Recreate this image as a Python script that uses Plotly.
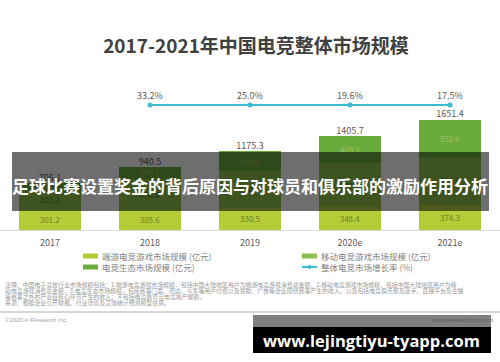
import plotly.graph_objects as go

# ---------------- data ----------------
years = ["2017", "2018", "2019", "2020e", "2021e"]
client_game = [301.2, 305.6, 330.5, 348.4, 374.3]      # 端游电竞游戏市场规模
mobile_game = [303.2, 456.8, 554.8, 648.2, 724.5]      # 移动电竞游戏市场规模
ecosystem = [101.7, 178.1, 290.0, 409.1, 552.6]        # 电竞生态市场规模
totals = [706.1, 940.5, 1175.3, 1405.7, 1651.4]
growth_years = ["2018", "2019", "2020e", "2021e"]
growth_rate = [33.2, 25.0, 19.6, 17.5]

series_names = [
    "端游电竞游戏市场规模 (亿元)",
    "移动电竞游戏市场规模 (亿元)",
    "电竞生态市场规模 (亿元)",
    "整体电竞市场增长率 (%)",
]
title_text = "2017-2021年中国电竞整体市场规模"
banner_text = "足球比赛设置奖金的背后原因与对球员和俱乐部的激励作用分析"
watermark_text = "www.lejingtiyu-tyapp.com"
note_lines = [
    "注释：中国电子竞技行业市场规模包括：1.端游电竞游戏市场规模，包括中国大陆地区用户为端游电竞游戏消费总金额，2.移动电竞游戏市场规模，包括中国大陆地区用户为移",
    "动电竞游戏消费总金额，3.电竞生态市场规模，包括赛事门票、周边、众筹等用户付费以及赞助、广告等企业围绕赛事产生的收入，以及包括电竞俱乐部及选手、直播平台及主播",
    "等赛事之外的产业链核心环节产生的收入；不包括电竞教育与电竞地产规模。",
    "来源：根据企业公开财报、行业访谈及艾瑞统计预测模型估算。",
]
copyright_text = "©2020.4 iResearch Inc."
site_text = "www.iresearch.com.cn"

# ---------------- styles ----------------
C_CLIENT = "#b4cd36"
C_MOBILE = "#8dc04a"
C_ECO = "#6aac3c"
C_LINE = "#3dbccf"
CJK = "Noto Sans CJK SC"

W, H = 500, 362
TOP, BASE = 80, 230          # pixel rows of plot top / baseline
PH = BASE - TOP


def px(x):
    return x / W


def py(y):
    return (BASE - y) / PH


fig = go.Figure()

seg_text_colors = ["#6d7d2a", "#5b7a2a", "#a9b86e"]
for vals, col, name, tc in zip([client_game, mobile_game, ecosystem],
                               [C_CLIENT, C_MOBILE, C_ECO],
                               series_names[:3], seg_text_colors):
    fig.add_trace(go.Bar(
        x=years, y=vals, name=name, marker=dict(color=col, line=dict(width=0)),
        text=[f"{v:.1f}" for v in vals], textposition="inside",
        insidetextanchor="middle", textangle=0, constraintext="none",
        textfont=dict(size=8, color=tc, family=CJK),
        showlegend=False,
    ))

# totals above the stacks
fig.add_trace(go.Scatter(
    x=years, y=totals, mode="text", text=[f"{v:.1f}" for v in totals],
    textposition="top center", textfont=dict(size=9, color="#595959", family=CJK),
    showlegend=False, hoverinfo="skip",
))

# growth line on its own (wide-range) axis so it sits flat near the top
fig.add_trace(go.Scatter(
    x=growth_years, y=growth_rate, yaxis="y2", name=series_names[3],
    mode="lines+markers+text", text=[f"{g:.1f}%" for g in growth_rate],
    textposition="top center", textfont=dict(size=9, color="#595959", family=CJK),
    line=dict(color=C_LINE, width=2), marker=dict(color=C_LINE, size=5),
    showlegend=False,
))

span = 20000.0
frac = (BASE - 105) / PH
lo = 25.0 - frac * span

shapes = []
annotations = []

# ---- manual legend ----
legend_items = [
    (83, 256, "bar", C_CLIENT, series_names[0]),
    (302, 256, "bar", C_MOBILE, series_names[1]),
    (83, 267, "bar", C_ECO, series_names[2]),
    (302, 267, "line", C_LINE, series_names[3]),
]
for x0, yc, kind, col, name in legend_items:
    if kind == "bar":
        shapes.append(dict(type="rect", xref="paper", yref="paper",
                           x0=px(x0), x1=px(x0 + 15), y0=py(yc + 2.5), y1=py(yc - 2.5),
                           fillcolor=col, line=dict(width=0)))
    else:
        shapes.append(dict(type="line", xref="paper", yref="paper",
                           x0=px(x0), x1=px(x0 + 15), y0=py(yc), y1=py(yc),
                           line=dict(color=col, width=2)))
        shapes.append(dict(type="circle", xref="paper", yref="paper",
                           x0=px(x0 + 5.5), x1=px(x0 + 9.5), y0=py(yc + 2), y1=py(yc - 2),
                           fillcolor=col, line=dict(width=0)))
    annotations.append(dict(text=name, xref="paper", yref="paper", x=px(x0 + 17), y=py(yc),
                            xanchor="left", yanchor="middle", showarrow=False,
                            font=dict(size=8.5, color="#7f7f7f", family=CJK)))

# ---- notes ----
for i, line in enumerate(note_lines):
    annotations.append(dict(text=line, xref="paper", yref="paper", x=px(3), y=py(284 + 6 * i),
                            xanchor="left", yanchor="middle", showarrow=False,
                            font=dict(size=5.9, color="#9a9a9a", family=CJK)))

# separator + footer
shapes.append(dict(type="line", xref="paper", yref="paper", x0=0, x1=1,
                   y0=py(312), y1=py(312), line=dict(color="#c8c8c8", width=1.5)))
annotations.append(dict(text=copyright_text, xref="paper", yref="paper", x=px(3), y=py(320),
                        xanchor="left", yanchor="middle", showarrow=False,
                        font=dict(size=6, color="#a6a6a6", family="Liberation Sans")))

# ---- banner overlay ----
shapes.append(dict(type="rect", xref="paper", yref="paper", layer="above",
                   x0=px(12), x1=px(489), y0=py(211), y1=py(152),
                   fillcolor="rgba(0,0,0,0.57)", line=dict(width=0)))
annotations.append(dict(text=banner_text, xref="paper", yref="paper", x=px(250), y=py(185),
                        xanchor="center", yanchor="middle", showarrow=False,
                        font=dict(size=17.0, color="white", family=CJK, weight="bold")))

# ---- bottom watermark ----
shapes.append(dict(type="rect", xref="paper", yref="paper", layer="above",
                   x0=px(253), x1=px(491), y0=py(327), y1=py(315),
                   fillcolor="rgba(0,0,0,0.5)", line=dict(width=0)))
shapes.append(dict(type="rect", xref="paper", yref="paper", layer="above",
                   x0=px(253), x1=px(491), y0=py(353), y1=py(327),
                   fillcolor="black", line=dict(width=0)))
annotations.append(dict(text=site_text, xref="paper", yref="paper", x=px(495), y=py(320),
                        xanchor="right", yanchor="middle", showarrow=False,
                        font=dict(size=6, color="#5a5a5a", family="Liberation Sans")))
annotations.append(dict(text=watermark_text, xref="paper", yref="paper", x=px(371), y=py(340),
                        xanchor="center", yanchor="middle", showarrow=False,
                        font=dict(size=16.5, color="white", family="Open Sans", weight="bold")))

fig.update_layout(
    width=W, height=H,
    margin=dict(l=0, r=0, t=TOP, b=H - BASE, pad=0),
    paper_bgcolor="white", plot_bgcolor="white",
    barmode="stack", bargap=0.38,
    title=dict(text=title_text, x=0.512, xanchor="center", y=1 - 46 / H, yanchor="middle",
               font=dict(size=19, color="#404040", family=CJK, weight="bold")),
    xaxis=dict(type="category", range=[-0.5, 4.5], showline=True, linecolor="#d9d9d9",
               linewidth=1, ticks="outside", ticklen=4, tickcolor="rgba(0,0,0,0)",
               tickfont=dict(size=9, color="#595959", family=CJK), showgrid=False,
               fixedrange=True),
    yaxis=dict(range=[0, PH / 0.0668], visible=False, showgrid=False, zeroline=False,
               fixedrange=True),
    yaxis2=dict(range=[lo, lo + span], overlaying="y", visible=False, showgrid=False,
                zeroline=False, fixedrange=True),
    shapes=shapes, annotations=annotations,
    showlegend=False,
)

fig.write_html("out.html", config={"displayModeBar": False},
               post_script="document.body.style.margin='0';document.body.style.overflow='hidden';")
